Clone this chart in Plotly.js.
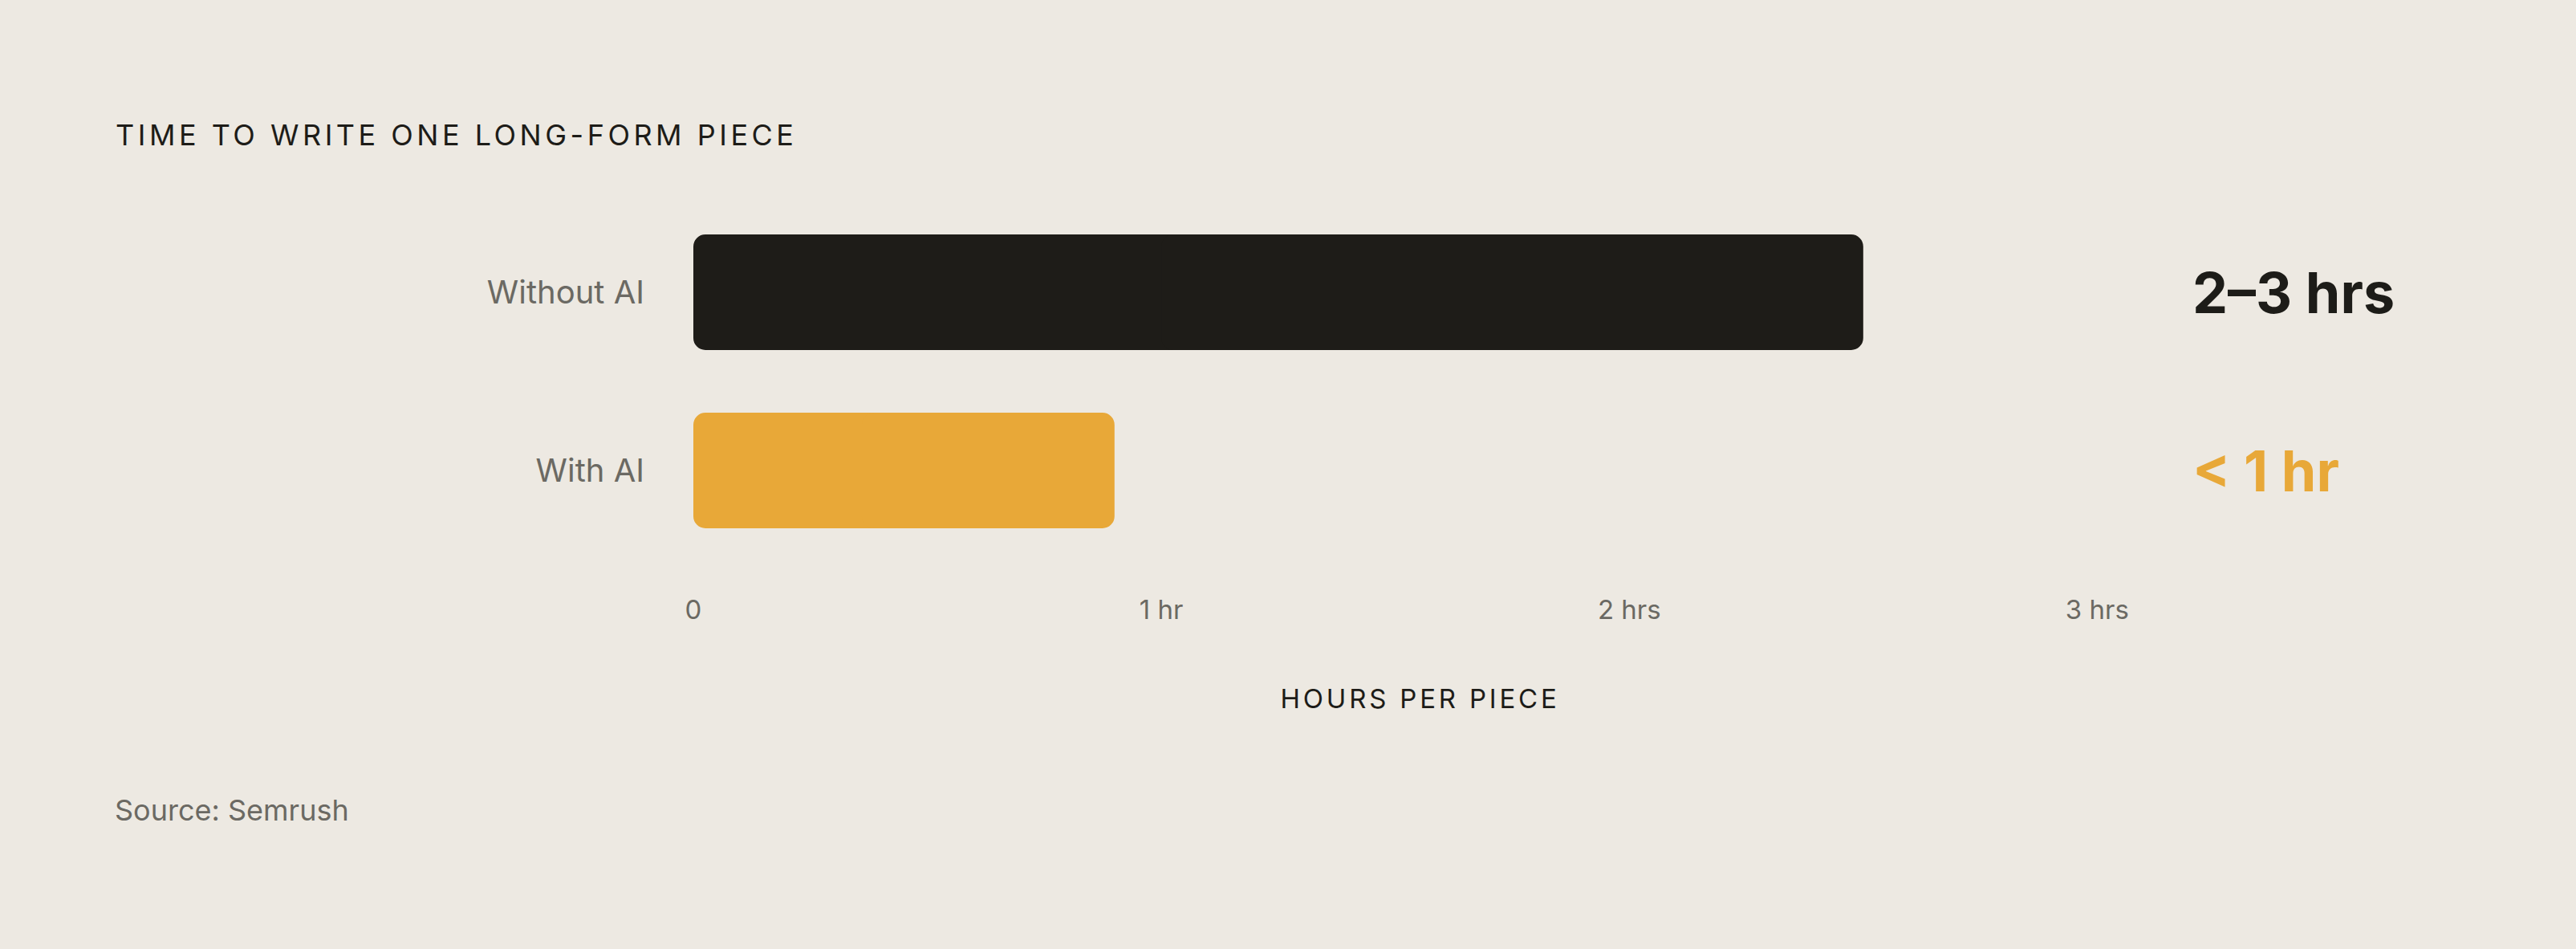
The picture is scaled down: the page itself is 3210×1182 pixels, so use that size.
<!DOCTYPE html>
<html>
<head>
<meta charset="utf-8">
<script src="https://cdn.plot.ly/plotly-3.0.1.min.js"></script>
<style>
  html, body { margin: 0; padding: 0; background: #ede9e2; }
  #chart { width: 3210px; height: 1182px; }
  /* spaced caps for the heading and the axis caption */
  #chart .gtitle { letter-spacing: 4.5px; }
  #chart .annotation[data-index="0"] text { letter-spacing: 3.8px; }
</style>
</head>
<body>
<div id="chart"></div>
<script>
// Data
const categories = ['Without AI', 'With AI'];
const hours = [2.5, 0.9];
const valueLabels = ['2\u20133 hrs', '< 1 hr'];
const tickValues = [0, 1, 2, 3];
const tickLabels = ['0', '1 hr', '2 hrs', '3 hrs'];

const FONT = 'Inter, "DejaVu Sans", sans-serif';
const INK = '#1d1c18';
const GREY = '#6b6963';
const barColors = ['#1e1c18', '#e8a838'];
const noteColors = [INK, '#e8a838'];

// plotly only rounds the far end of a bar, so each bar is drawn as two
// overlapping halves growing away from the middle: both ends get rounded
const leftHalf = {
    type: 'bar',
    orientation: 'h',
    y: categories,
    base: hours.map(v => v * 0.6),
    x: hours.map(v => -v * 0.6),
    marker: { color: barColors, cornerradius: 15, line: { width: 0 } },
    hoverinfo: 'skip'
};
const rightHalf = {
    type: 'bar',
    orientation: 'h',
    y: categories,
    base: hours.map(v => v * 0.4),
    x: hours.map(v => v * 0.6),
    marker: { color: barColors, cornerradius: 15, line: { width: 0 } },
    hoverinfo: 'skip'
};

// value callouts to the right of the plot
const valueNotes = categories.map(function(cat, i) {
    return {
        xref: 'paper', yref: 'y',
        x: 1, y: cat,
        xanchor: 'left', yanchor: 'middle',
        text: '<b>' + valueLabels[i].replace('<', '&lt;') + '</b>',
        showarrow: false,
        font: { family: FONT, size: 70, color: noteColors[i] }
    };
});

const layout = {
    width: 3210,
    height: 1182,
    paper_bgcolor: '#ede9e2',
    plot_bgcolor: '#ede9e2',
    margin: { l: 864, r: 480, t: 253, b: 485, pad: 0 },
    showlegend: false,
    barmode: 'overlay',
    bargap: 78 / 222,   // 144px bars on whole pixels, so the halves join cleanly
    title: {
        text: 'TIME TO WRITE ONE LONG-FORM PIECE',
        xref: 'container', yref: 'container',
        x: 144 / 3210, xanchor: 'left',
        y: 1 - 168 / 1182, yanchor: 'middle',
        font: { family: FONT, size: 36, color: INK }
    },
    xaxis: {
        range: [0, 3.2],
        tickvals: tickValues,
        ticktext: tickLabels,
        showgrid: false,
        zeroline: false,
        showline: false,
        ticks: '',
        ticklabelstandoff: 40,
        tickfont: { family: FONT, size: 33, color: GREY },
        fixedrange: true
    },
    yaxis: {
        type: 'category',
        range: [1.5, -0.5],
        showgrid: false,
        zeroline: false,
        showline: false,
        ticks: '',
        ticklabelstandoff: 60,
        tickfont: { family: FONT, size: 40, color: GREY },
        fixedrange: true
    },
    annotations: [
        {
            xref: 'paper', yref: 'paper',
            x: 0.485, y: -0.39,
            xanchor: 'center', yanchor: 'middle',
            text: 'HOURS PER PIECE',
            showarrow: false,
            font: { family: FONT, size: 33, color: INK }
        },
        {
            xref: 'paper', yref: 'paper',
            x: (141 - 864) / 1866, y: -0.703,
            xanchor: 'left', yanchor: 'middle',
            text: 'Source: Semrush',
            showarrow: false,
            font: { family: FONT, size: 36, color: GREY }
        }
    ].concat(valueNotes)
};

Plotly.newPlot('chart', [leftHalf, rightHalf], layout, { displayModeBar: false, staticPlot: true });
</script>
</body>
</html>
